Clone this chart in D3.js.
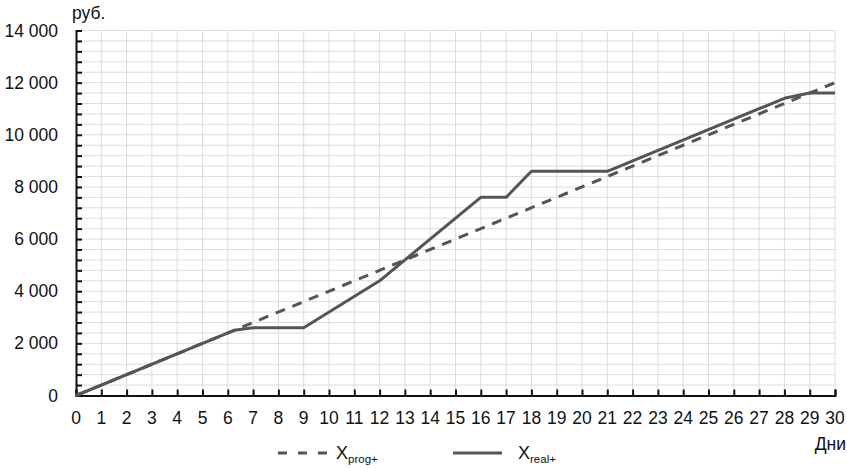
<!DOCTYPE html>
<html><head><meta charset="utf-8">
<script src="https://cdn.jsdelivr.net/npm/d3@7"></script>
<style>body{margin:0;background:#fff}svg text{font-family:"Liberation Sans",Arial,sans-serif;fill:#111}</style>
</head><body><svg id="c" width="847" height="469"></svg>
<script>
const days = d3.range(0, 31);
const yTicks = [0, 2000, 4000, 6000, 8000, 10000, 12000, 14000];
const progDays = [0, 30];
const progVals = [0, 12000];
const realDays = [0, 6.25, 7, 9, 12, 16, 17, 18, 21, 28, 29, 30];
const realVals = [0, 2500, 2600, 2600, 4400, 7600, 7600, 8600, 8600, 11400, 11600, 11600];
const yUnit = "руб.";
const xUnit = "Дни";

const svg = d3.select("#c");
const x = d3.scaleLinear().domain([0, 30]).range([76, 835]);
const y = d3.scaleLinear().domain([0, 14000]).range([395.5, 30.5]);
const minorY = d3.range(400, 14001, 400);
const FS = 17.5;

// grid
svg.append("g").selectAll("line").data(minorY).join("line")
  .attr("x1", x(0)).attr("x2", x(30)).attr("y1", d => y(d)).attr("y2", d => y(d))
  .attr("stroke", "#dcdcdc").attr("stroke-width", 1);
svg.append("g").selectAll("line").data(days.slice(1)).join("line")
  .attr("x1", d => x(d)).attr("x2", d => x(d)).attr("y1", y(0)).attr("y2", y(14000))
  .attr("stroke", "#dcdcdc").attr("stroke-width", 1);

// axes
const ax = svg.append("g").attr("transform", `translate(0,${y(0)})`)
  .call(d3.axisTop(x).tickValues(days).tickSize(6).tickFormat(""));
ax.select(".domain").attr("stroke", "#111").attr("stroke-width", 2);
ax.selectAll(".tick line").attr("stroke", "#111").attr("stroke-width", 2);
svg.append("g").selectAll("text").data(days).join("text")
  .attr("x", d => x(d)).attr("y", 423.5).attr("text-anchor", "middle")
  .attr("font-size", FS).text(d => d);

const ay = svg.append("g").attr("transform", `translate(${x(0)},0)`)
  .call(d3.axisRight(y).tickValues([0].concat(minorY)).tickSize(6).tickFormat(""));
ay.select(".domain").attr("stroke", "#111").attr("stroke-width", 2);
ay.selectAll(".tick line").attr("stroke", "#111").attr("stroke-width", 2);
svg.append("g").selectAll("text").data(yTicks).join("text")
  .attr("x", 58).attr("y", d => y(d) + 6).attr("text-anchor", "end")
  .attr("font-size", FS).text(d => d === 0 ? "0" : d3.format(",")(d).replace(",", " "));

svg.append("text").attr("x", 72).attr("y", 19).attr("font-size", FS).text(yUnit);
svg.append("text").attr("x", 846).attr("y", 450).attr("text-anchor", "end").attr("font-size", FS).text(xUnit);

// lines
const line = d3.line().x(d => x(d[0])).y(d => y(d[1]));
svg.append("path").datum(progDays.map((d, i) => [d, progVals[i]]))
  .attr("d", line).attr("fill", "none").attr("stroke", "#555").attr("stroke-width", 3)
  .attr("stroke-dasharray", "10,8");
svg.append("path").datum(realDays.map((d, i) => [d, realVals[i]]))
  .attr("d", line).attr("fill", "none").attr("stroke", "#555").attr("stroke-width", 3)
  .attr("stroke-linejoin", "round");

// legend
const lg = svg.append("g");
lg.append("line").attr("x1", 278).attr("x2", 327).attr("y1", 453).attr("y2", 453)
  .attr("stroke", "#555").attr("stroke-width", 3).attr("stroke-dasharray", "9,11");
const t1 = lg.append("text").attr("x", 336).attr("y", 459).attr("font-size", 18);
t1.append("tspan").text("X");
t1.append("tspan").attr("font-size", 11.5).attr("dy", 4).text("prog+");
lg.append("line").attr("x1", 453).attr("x2", 502).attr("y1", 453).attr("y2", 453)
  .attr("stroke", "#555").attr("stroke-width", 3);
const t2 = lg.append("text").attr("x", 518).attr("y", 459).attr("font-size", 18);
t2.append("tspan").text("X");
t2.append("tspan").attr("font-size", 11.5).attr("dy", 4).text("real+");
</script></body></html>
